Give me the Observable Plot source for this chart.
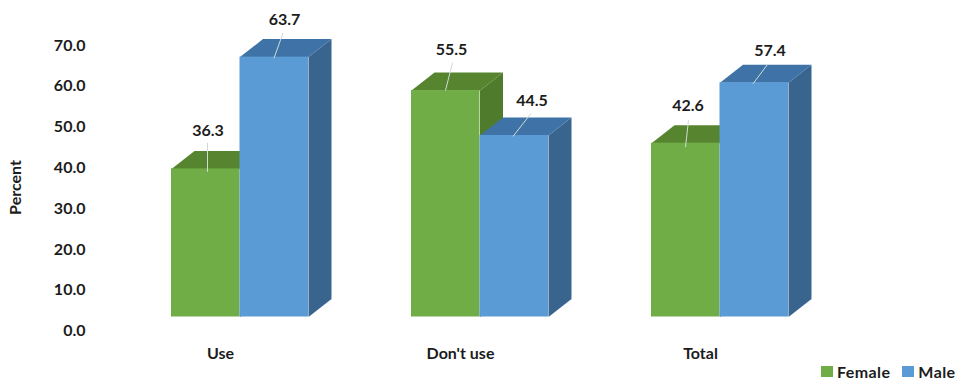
<!DOCTYPE html>
<html>
<head>
<meta charset="utf-8">
<script src="https://cdn.jsdelivr.net/npm/d3@7"></script>
<script src="https://cdn.jsdelivr.net/npm/@observablehq/plot@0.6"></script>
<style>
  html, body { margin: 0; padding: 0; background: #fff; }
  #chart { position: relative; width: 956px; height: 381px; overflow: hidden; }
  #legend { position: absolute; left: 821px; top: 362px; display: flex; align-items: center;
            font: 700 16px Lato, sans-serif; color: #1c1c1c; letter-spacing: .4px; white-space: nowrap; }
  #legend i { display: inline-block; width: 12px; height: 11px; margin-right: 4px; }
  #legend span { display: flex; align-items: center; margin-right: 12px; }
</style>
</head>
<body>
<div id="chart">
  <div id="legend"></div>
</div>
<script>
const categories = ["Use", "Don't use", "Total"];
const female = [36.3, 55.5, 42.6];
const male = [63.7, 44.5, 57.4];
const yTicks = [0, 10, 20, 30, 40, 50, 60, 70];

// Colours of the front, top and side faces of each series.
const femaleFaces = { front: "#70ad47", top: "#57852f", side: "#4f7c2c" };
const maleFaces = { front: "#5b9bd5", top: "#3f72a6", side: "#38648e" };

// Plot geometry: one x unit spans a category, one y unit spans a percent.
const pxPerGroup = 240;
const pxPerPercent = 4.08;
const baseline = 316.5;
const firstBar = 171;
const barWidth = 68.5 / pxPerGroup;
const depthX = 23 / pxPerGroup;
const depthY = 18 / pxPerPercent;

// Leader line ends and label centre in pixels, relative to each bar's top-left corner.
const femaleLeaders = [
  { tip: [36, 3], end: [36, -26], label: [36.5, -38.5] },
  { tip: [34, 0], end: [41, -28], label: [40, -41] },
  { tip: [34, 4], end: [37, -23], label: [36.5, -37] }
];
const maleLeaders = [
  { tip: [34, 1], end: [43, -24], label: [44.5, -37] },
  { tip: [33, 1], end: [51, -22], label: [52, -35] },
  { tip: [33, 1], end: [48, -19], label: [50, -32] }
];

const barsOf = (values, start, leaders) => values.map((value, i) => ({
  category: categories[i],
  value,
  x1: i + start,
  x2: i + start + barWidth,
  leader: leaders[i]
}));
const femaleBars = barsOf(female, 0, femaleLeaders);
const maleBars = barsOf(male, barWidth, maleLeaders);

// Outlines of the receding faces, drawn as filled closed paths.
function facesOf(bars, colors) {
  const rows = [];
  bars.forEach((b, i) => {
    const side = [[b.x2, 0], [b.x2 + depthX, depthY], [b.x2 + depthX, b.value + depthY], [b.x2, b.value]];
    const top = [[b.x1, b.value], [b.x2, b.value], [b.x2 + depthX, b.value + depthY], [b.x1 + depthX, b.value + depthY]];
    side.forEach(([x, y]) => rows.push({ id: `side${i}`, x, y, color: colors.side }));
    top.forEach(([x, y]) => rows.push({ id: `top${i}`, x, y, color: colors.top }));
  });
  return rows;
}

function seriesMarks(bars, colors) {
  return [
    Plot.line(facesOf(bars, colors), { x: "x", y: "y", z: "id", fill: "color", stroke: "none" }),
    Plot.rect(bars, { x1: "x1", x2: "x2", y1: 0, y2: "value", fill: colors.front })
  ];
}

function labelMarks(bars) {
  const at = (b, [dx, dy]) => [b.x1 + dx / pxPerGroup, b.value - dy / pxPerPercent];
  return [
    Plot.link(bars, {
      x1: (b) => at(b, b.leader.tip)[0],
      y1: (b) => at(b, b.leader.tip)[1],
      x2: (b) => at(b, b.leader.end)[0],
      y2: (b) => at(b, b.leader.end)[1],
      stroke: "#cfdcd6",
      strokeWidth: 1
    }),
    Plot.text(bars, {
      x: (b) => at(b, b.leader.label)[0],
      y: (b) => at(b, b.leader.label)[1],
      text: (b) => b.value.toFixed(1),
      fontSize: 16,
      fontWeight: 700,
      fill: "#1c1c1c"
    })
  ];
}

const chart = Plot.plot({
  width: 956,
  height: 381,
  marginLeft: 85,
  marginRight: 0,
  marginTop: 0,
  marginBottom: 0,
  style: { fontFamily: "Lato, sans-serif", background: "#fff" },
  x: { domain: [0, 1], range: [firstBar, firstBar + pxPerGroup], axis: null },
  y: { domain: [0, 70], range: [baseline, baseline - 70 * pxPerPercent], axis: null },
  color: { type: "identity" },
  marks: [
    ...seriesMarks(femaleBars, femaleFaces),
    ...seriesMarks(maleBars, maleFaces),
    ...labelMarks(femaleBars),
    ...labelMarks(maleBars),
    Plot.axisY(yTicks, {
      anchor: "left",
      tickSize: 0,
      tickPadding: 0,
      dy: 14,
      tickFormat: (d) => d.toFixed(1),
      fontSize: 16,
      fontWeight: 700,
      fill: "#1c1c1c",
      label: null
    }),
    Plot.text(["Percent"], {
      frameAnchor: "left",
      textAnchor: "middle",
      dx: -70,
      dy: -3.5,
      rotate: -90,
      fontSize: 16,
      fontWeight: 700,
      fill: "#1c1c1c"
    }),
    Plot.text(categories, {
      x: (d, i) => i,
      y: 0,
      dx: 49,
      dy: 36.5,
      fontSize: 16,
      fontWeight: 700,
      fill: "#1c1c1c"
    })
  ]
});

const host = document.getElementById("chart");
host.insertBefore(chart, host.firstChild);

const legend = document.getElementById("legend");
[["Female", femaleFaces.front], ["Male", maleFaces.front]].forEach(([name, color]) => {
  const item = document.createElement("span");
  item.innerHTML = `<i style="background:${color}"></i>${name}`;
  legend.appendChild(item);
});
</script>
</body>
</html>
